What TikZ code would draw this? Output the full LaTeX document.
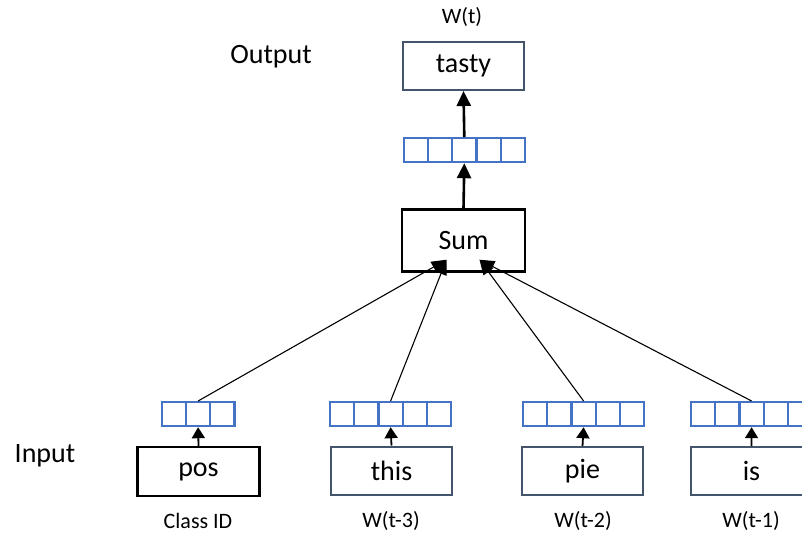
\documentclass[tikz,border=0pt]{standalone}
\usepackage{fontspec}
\setmainfont{Carlito}
\usetikzlibrary{positioning, calc, arrows.meta}

\definecolor{vecblue}{HTML}{4472C4}
\definecolor{slate}{HTML}{44546A}

\tikzset{
  word/.style={draw=slate, line width=2pt, minimum width=121pt, minimum height=48pt,
    inner sep=0pt, font=\fontsize{28}{30}\selectfont},
  cell/.style={draw=vecblue, line width=2.2pt, minimum width=24.2pt, minimum height=24pt, inner sep=0pt},
  up/.style={line width=2.6pt, -{Triangle[width=14pt,length=15pt]}},
  stub/.style={line width=1.8pt, -{Triangle[width=13pt,length=11pt]}},
  feed/.style={line width=1.1pt, -{Triangle[width=12pt,length=15pt]}},
  tag/.style={font=\fontsize{22}{24}\selectfont},
  side/.style={font=\fontsize{28}{30}\selectfont},
}

% a strip of n cells: name, left x, top y, n
\newcommand{\vecstrip}[4]{%
  \foreach \i in {1,...,#4}
    \node[cell, anchor=north west] (#1-\i) at ({#2+(\i-1)*24.2}, #3) {};
}

\begin{document}
\begin{tikzpicture}[x=1pt, y=-1pt]
    \useasboundingbox (0,0) rectangle (802,533);
    \clip (0,0) rectangle (802,533);

    % output side
    \node[tag]  (wt)     at (462,17) {W(t)};
    \node[side] (output) at (271,57) {Output};
    \node[word] (tasty)  at (463.5,66) {tasty};
    \vecstrip{hid}{402.7}{137}{5}
    \node[word, draw=black, line width=2.4pt, minimum width=123pt, minimum height=62pt] (sum) at (463.5,240.5) {Sum};

    \draw[up] (hid-3.north) -- (tasty.south);
    \draw[up] (sum.north) -- (hid-3.south);

    % input side
    \node[side] (input) at (45,456) {Input};

    \node[word, draw=black, line width=2.4pt, minimum width=122pt, minimum height=49pt] (pos) at (198.5,471.5) {pos};
    \node[word] (this) at (391.5,470.5) {this};
    \node[word] (pie)  at (582.5,471) {pie};
    \node[word] (is)   at (751.5,471) {is};

    \vecstrip{posv}{160.7}{401}{3}
    \vecstrip{thisv}{329}{401}{5}
    \vecstrip{piev}{522}{401}{5}
    \vecstrip{isv}{690}{401}{5}

    \node[tag] (cls) at (198,521) {Class ID};
    \node[tag] (w3)  at (391,521) {W(t-3)};
    \node[tag] (w2)  at (583,521) {W(t-2)};
    \node[tag] (w1)  at (751,521) {W(t-1)};

    \draw[stub] (pos.north)  -- (posv-2.south);
    \draw[stub] (this.north) -- (thisv-3.south);
    \draw[stub] (pie.north)  -- (piev-3.south);
    \draw[stub] (is.north)   -- (isv-3.south);

    % into the sum
    \coordinate (sumL) at ($(sum.south)+(-17,-13)$);
    \coordinate (sumR) at ($(sum.south)+(16,-13)$);
    \draw[feed] (posv-2.north)  -- (sumL);
    \draw[feed] (thisv-3.north) -- (sumL);
    \draw[feed] (piev-3.north)  -- (sumR);
    \draw[feed] (isv-3.north)   -- (sumR);
\end{tikzpicture}
\end{document}
